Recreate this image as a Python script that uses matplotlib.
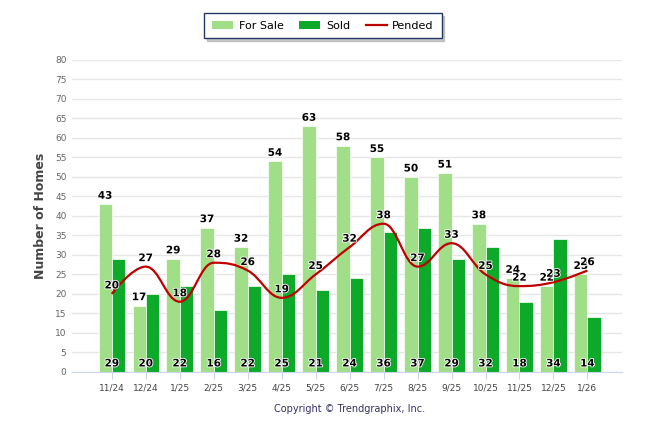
import matplotlib
matplotlib.use("Agg")
import matplotlib.pyplot as plt
import matplotlib.patheffects as pe
from matplotlib.path import Path
from matplotlib.patches import PathPatch, Patch
from matplotlib.lines import Line2D
import numpy as np

months = ["11/24", "12/24", "1/25", "2/25", "3/25", "4/25", "5/25", "6/25",
          "7/25", "8/25", "9/25", "10/25", "11/25", "12/25", "1/26"]
for_sale = [43, 17, 29, 37, 32, 54, 63, 58, 55, 50, 51, 38, 24, 22, 25]
sold = [29, 20, 22, 16, 22, 25, 21, 24, 36, 37, 29, 32, 18, 34, 14]
pended = [20, 27, 18, 28, 26, 19, 25, 32, 38, 27, 33, 25, 22, 23, 26]

c_sale = "#A0DF88"
c_sold = "#0CAA28"
c_pend = "#C00000"


def spline_path(xs, ys, smoothing=1.5):
    # highcharts-style spline: cubic bezier through the points
    n = len(xs)
    left = [None] * n
    right = [None] * n
    for i in range(n):
        if i == 0 or i == n - 1:
            left[i] = (xs[i], ys[i])
            right[i] = (xs[i], ys[i])
            continue
        d = smoothing + 1
        lx = (smoothing * xs[i] + xs[i - 1]) / d
        ly = (smoothing * ys[i] + ys[i - 1]) / d
        rx = (smoothing * xs[i] + xs[i + 1]) / d
        ry = (smoothing * ys[i] + ys[i + 1]) / d
        corr = (ry - ly) * (rx - xs[i]) / (rx - lx) + ys[i] - ry
        ly += corr
        ry += corr
        if ly > ys[i - 1] and ly > ys[i]:
            ly = max(ys[i - 1], ys[i])
            ry = 2 * ys[i] - ly
        elif ly < ys[i - 1] and ly < ys[i]:
            ly = min(ys[i - 1], ys[i])
            ry = 2 * ys[i] - ly
        if ry > ys[i + 1] and ry > ys[i]:
            ry = max(ys[i + 1], ys[i])
            ly = 2 * ys[i] - ry
        elif ry < ys[i + 1] and ry < ys[i]:
            ry = min(ys[i + 1], ys[i])
            ly = 2 * ys[i] - ry
        left[i] = (lx, ly)
        right[i] = (rx, ry)
    verts = [(xs[0], ys[0])]
    codes = [Path.MOVETO]
    for i in range(1, n):
        verts += [right[i - 1], left[i], (xs[i], ys[i])]
        codes += [Path.CURVE4] * 3
    return Path(verts, codes)


plt.rcParams["font.family"] = ["DejaVu Sans"]
fig = plt.figure(figsize=(6.46, 4.34), dpi=100)
ax = fig.add_axes([0.1115, 0.143, 0.852, 0.719])

x = np.arange(len(months))
w = 0.39
ax.bar(x - w / 2, for_sale, w, color=c_sale, edgecolor="white", linewidth=0.5, zorder=2)
ax.bar(x + w / 2, sold, w, color=c_sold, edgecolor="white", linewidth=0.5, zorder=2)
ax.add_patch(PathPatch(spline_path(list(x), pended), facecolor="none",
                       edgecolor=c_pend, linewidth=1.6, zorder=3))

outline = [pe.withStroke(linewidth=1.2, foreground="white")]
lab = dict(fontsize=7.5, fontweight="bold", color="black", ha="center",
           path_effects=outline, zorder=5)
for i in range(len(months)):
    ax.annotate(str(for_sale[i]), (x[i] - w / 2, for_sale[i]), xytext=(0, 2.5),
                textcoords="offset points", va="bottom", **lab)
    ax.annotate(str(pended[i]), (x[i], pended[i]), xytext=(0, 2.5),
                textcoords="offset points", va="bottom", **lab)
    ax.annotate(str(sold[i]), (x[i], 0), xytext=(0, 2.5),
                textcoords="offset points", va="bottom", **lab)

ax.set_xlim(-1.17, 15.03)
ax.set_ylim(0, 80)
ax.set_yticks(range(0, 81, 5))
ax.set_xticks(x)
ax.set_xticklabels(months)
ax.tick_params(axis="y", length=0, labelsize=6.5, labelcolor="#666666", pad=4)
ax.tick_params(axis="x", length=5, width=0.8, color="#CCD6EB", labelsize=6.5,
               labelcolor="#444444", pad=3)
ax.grid(axis="y", color="#E6E6E6", linewidth=1, zorder=0)
ax.set_axisbelow(True)
for s in ["top", "right", "left"]:
    ax.spines[s].set_visible(False)
ax.spines["bottom"].set_color("#CCD6EB")

ax.set_ylabel("Number of Homes", fontsize=9, fontweight="bold", color="#444444", labelpad=6)

handles = [Patch(facecolor=c_sale, label="For Sale"),
           Patch(facecolor=c_sold, label="Sold"),
           Line2D([0], [0], color=c_pend, lw=1.6, label="Pended")]
leg = fig.legend(handles=handles, loc="center", bbox_to_anchor=(0.5, 0.941), ncol=3,
                 frameon=True, fancybox=False, shadow={"ox": 2, "oy": -2, "color": "#999999"},
                 fontsize=8, handlelength=1.9, handleheight=0.7, handletextpad=0.5,
                 columnspacing=1.4, borderpad=0.7)
leg.get_frame().set_edgecolor("#1F3864")
leg.get_frame().set_linewidth(1)

fig.text(0.541, 0.058, "Copyright \u00a9 Trendgraphix, Inc.", ha="center", va="center",
         fontsize=7, color="#333366")

fig.savefig("out.png", dpi=100)
